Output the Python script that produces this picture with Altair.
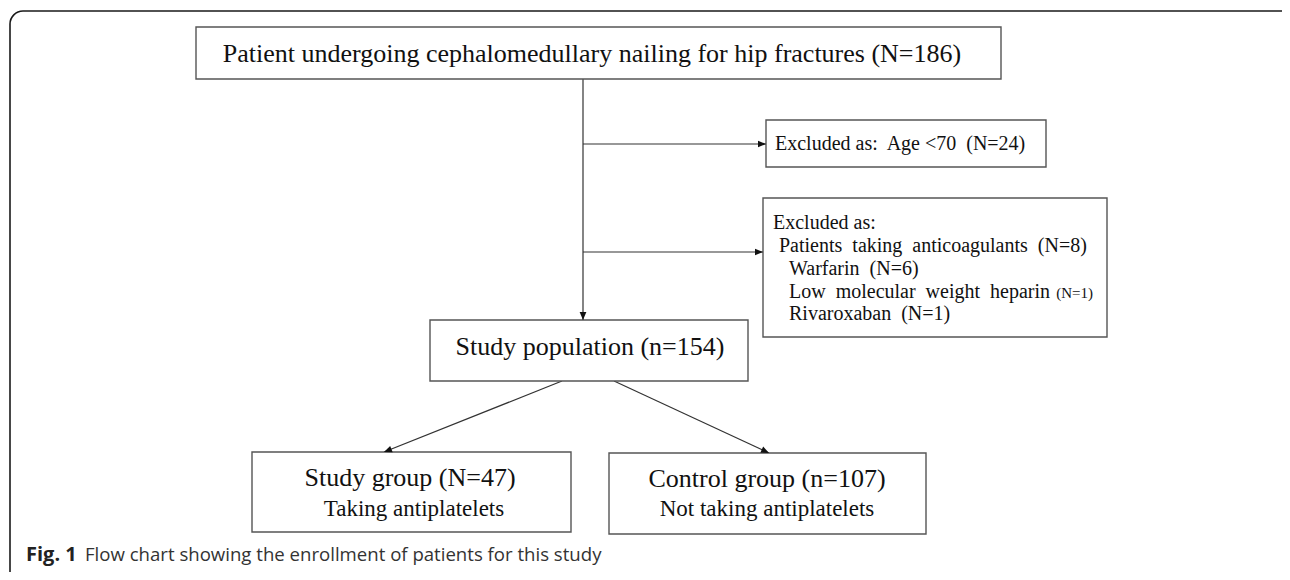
import math
import altair as alt
import pandas as pd

# ---------------- data (text content and counts) ----------------
n_total = 186
n_age = 24
n_anticoag = 8
n_warfarin = 6
n_lmwh = 1
n_rivaroxaban = 1
n_population = 154
n_study = 47
n_control = 107

main_labels = [
    f"Patient undergoing cephalomedullary nailing for hip fractures (N={n_total})",
    f"Study population (n={n_population})",
    f"Study group (N={n_study})",
    "Taking antiplatelets",
    f"Control group (n={n_control})",
    "Not taking antiplatelets",
]
excl_labels = [
    f"Excluded as:\u00a0 Age <70\u00a0 (N={n_age})",
    "Excluded as:",
    f"Patients\u00a0 taking\u00a0 anticoagulants\u00a0 (N={n_anticoag})",
    f"Warfarin\u00a0 (N={n_warfarin})",
    "Low\u00a0 molecular\u00a0 weight\u00a0 heparin",
    f"Rivaroxaban\u00a0 (N={n_rivaroxaban})",
]
small_label = f"(N={n_lmwh})"
caption_bold = "Fig. 1"
caption_text = "Flow chart showing the enrollment of patients for this study"

# ---------------- layout (page pixel coordinates) ----------------
boxes = pd.DataFrame({
    "x0": [196, 766, 763, 430, 252, 609],
    "x1": [1001, 1046, 1107, 748, 571, 926],
    "y0": [27, 120, 198, 320, 452, 453],
    "y1": [79, 167, 337, 381, 532, 534],
})
frame = pd.DataFrame({"x0": [10], "x1": [1300], "y0": [11], "y1": [592]})

edges = pd.DataFrame({
    "xa": [583, 583, 583, 562, 614],
    "ya": [79, 144, 252, 381, 381],
    "xb": [583, 766, 763, 384, 769],
    "yb": [320, 144, 252, 452, 453],
})
edges["angle"] = [
    (math.degrees(math.atan2(xb - xa, -(yb - ya))) + 360) % 360
    for xa, ya, xb, yb in zip(edges.xa, edges.ya, edges.xb, edges.yb)
]

main_text = pd.DataFrame({
    "label": main_labels,
    "x": [592, 590, 410, 414, 767, 767],
    "y": [62, 355, 486, 516, 487, 516],
    "size": [26, 26, 26, 23, 26, 23],
})
excl_text = pd.DataFrame({
    "label": excl_labels,
    "x": [775, 773, 779, 789, 789, 789],
    "y": [150, 229, 252, 275, 298, 320],
})
small_text = pd.DataFrame({"label": [small_label], "x": [1093], "y": [298]})
cap_b = pd.DataFrame({"label": [caption_bold], "x": [26], "y": [561]})
cap_t = pd.DataFrame({"label": [caption_text], "x": [85], "y": [561]})

W, H = 1274, 564
xs = alt.Scale(domain=[8, 8 + W])
ys = alt.Scale(domain=[8 + H, 8])

def X(f):
    return alt.X(f, type="quantitative", scale=xs, axis=None)

def Y(f):
    return alt.Y(f, type="quantitative", scale=ys, axis=None)

frame_l = alt.Chart(frame).mark_rect(
    fill=None, fillOpacity=0, stroke="#1a1a1a", strokeWidth=1.6, cornerRadius=13
).encode(x=X("x0"), x2="x1", y=Y("y0"), y2="y1")

box_l = alt.Chart(boxes).mark_rect(
    fill="white", stroke="#555555", strokeWidth=1.4
).encode(x=X("x0"), x2="x1", y=Y("y0"), y2="y1")

line_l = alt.Chart(edges).mark_rule(color="#333333", strokeWidth=1.2).encode(
    x=X("xa"), y=Y("ya"), x2="xb", y2="yb"
)

arrow_shape = "M0,0L-0.42,1L0.42,1Z"
head_l = alt.Chart(edges).mark_point(
    shape=arrow_shape, filled=True, color="#111111", size=256, strokeWidth=0, opacity=1
).encode(x=X("xb"), y=Y("yb"), angle=alt.Angle("angle:Q", scale=None))

main_t = alt.Chart(main_text).mark_text(
    font="Liberation Serif", align="center", baseline="alphabetic", color="#111111"
).encode(x=X("x"), y=Y("y"), text="label:N", size=alt.Size("size:Q", scale=None))

excl_t = alt.Chart(excl_text).mark_text(
    font="Liberation Serif", fontSize=20, align="left", baseline="alphabetic", color="#111111"
).encode(x=X("x"), y=Y("y"), text="label:N")

small_t = alt.Chart(small_text).mark_text(
    font="Liberation Serif", fontSize=15, align="right", baseline="alphabetic", color="#111111"
).encode(x=X("x"), y=Y("y"), text="label:N")

cap_bl = alt.Chart(cap_b).mark_text(
    font="Open Sans", fontSize=20, fontWeight="bold", align="left", baseline="alphabetic", color="#222222"
).encode(x=X("x"), y=Y("y"), text="label:N")

cap_tl = alt.Chart(cap_t).mark_text(
    font="Open Sans", fontSize=18.6, align="left", baseline="alphabetic", color="#333333"
).encode(x=X("x"), y=Y("y"), text="label:N")

chart = alt.layer(
    frame_l, line_l, box_l, head_l, main_t, excl_t, small_t, cap_bl, cap_tl
).properties(
    width=W, height=H, padding=0,
    autosize=alt.AutoSizeParams(type="none"),
    background="white",
).configure_view(strokeWidth=0)

chart.save("out.html", embed_options={"renderer": "svg", "actions": False})
